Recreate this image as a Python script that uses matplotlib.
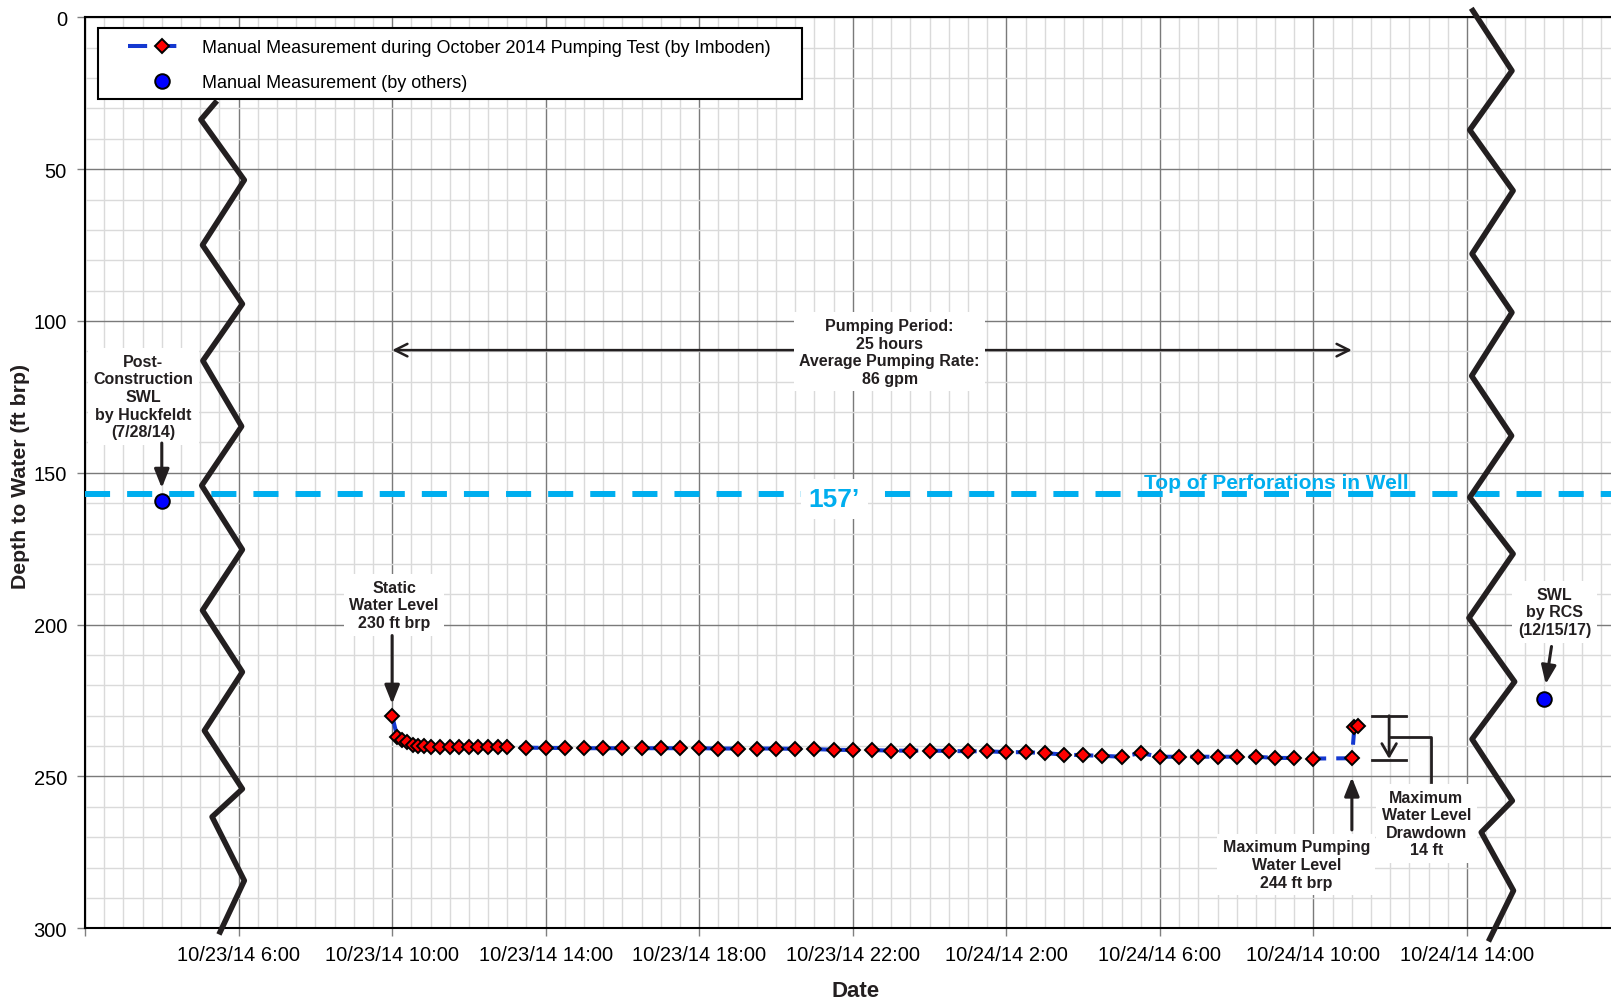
import datetime as dt
import matplotlib
matplotlib.use("Agg")
import matplotlib.pyplot as plt
import matplotlib.dates as mdates
from matplotlib.ticker import MultipleLocator, FuncFormatter
from matplotlib.patches import Rectangle
from matplotlib.legend_handler import HandlerLine2D
from matplotlib import font_manager

# October 2014 pumping test (Imboden): minutes after pump start, depth to water (ft brp)
pump_start = dt.datetime(2014, 10, 23, 10, 0)
test_minutes = [0, 8, 16, 24, 32, 40, 50, 60, 75, 90, 105, 120, 135, 150, 165,
                180, 210, 240, 270, 300, 330, 360, 390, 420, 450, 480, 510, 540,
                570, 600, 630, 660, 690, 720, 750, 780, 810, 840, 870, 900, 930,
                960, 990, 1020, 1050, 1080, 1110, 1140, 1170, 1200, 1230, 1260,
                1290, 1320, 1350, 1380, 1410, 1440, 1500, 1504, 1510]
test_depth = [230.0, 236.9, 238.0, 238.7, 239.5, 239.9, 240.1, 240.2, 240.2, 240.2,
              240.2, 240.2, 240.2, 240.2, 240.2,
              240.3, 240.5, 240.6, 240.6, 240.7, 240.7, 240.7, 240.7, 240.7, 240.7,
              240.7, 240.8, 240.8, 240.8, 240.8, 240.9, 241.0, 241.2, 241.3, 241.3,
              241.5, 241.5, 241.5, 241.6, 241.7, 241.7, 242.0, 242.0, 242.3, 242.8,
              243.0, 243.2, 243.5, 242.3, 243.5, 243.5, 243.5, 243.5, 243.5, 243.5,
              243.9, 243.9, 244.1, 244.0, 233.8, 233.4]

# measurements by others (placed on the broken axis)
other_times = [dt.datetime(2014, 10, 23, 4, 0), dt.datetime(2014, 10, 24, 16, 0)]
other_depth = [159.2, 224.5]

top_perf = 157

# axis break symbols: hours after 10/23 2:00, depth
t0 = dt.datetime(2014, 10, 23, 2, 0)
t1 = dt.datetime(2014, 10, 24, 18, 0)
left_break_h = [3.39, 3.02, 4.15, 3.06, 4.10, 3.07, 4.08, 3.04, 4.10, 3.06, 4.10,
                3.11, 4.10, 3.31, 4.15, 3.52]
left_break_d = [28.2, 33.7, 53.6, 75.0, 94.4, 113.1, 134.7, 154.2, 175.3, 195.3,
                215.6, 234.9, 254.1, 263.3, 284.3, 301.2]
right_break_h = [36.15, 37.17, 36.07, 37.20, 36.13, 37.17, 36.12, 37.16, 36.07,
                 37.20, 36.05, 37.24, 36.13, 37.18, 36.37, 37.21, 36.59]
right_break_d = [-2.2, 17.6, 37.1, 57.1, 77.9, 97.2, 118.1, 137.8, 158.1, 176.7,
                 197.8, 218.8, 237.7, 258.0, 268.4, 287.6, 303.5]


def at(h):
    return t0 + dt.timedelta(hours=h)


class OffsetMarker(HandlerLine2D):
    # legend marker sits a bit right of the handle centre, like the original
    def create_artists(self, legend, orig_handle, xdescent, ydescent, width,
                       height, fontsize, trans):
        arts = super().create_artists(legend, orig_handle, xdescent, ydescent,
                                      width, height, fontsize, trans)
        for a in arts:
            x = list(a.get_xdata())
            if len(x) == 3:
                a.set_xdata([x[0], x[0] + 0.63 * (x[2] - x[0]), x[2]])
        return arts


names = {f.name for f in font_manager.fontManager.ttflist}
narrow = "Liberation Sans Narrow" if "Liberation Sans Narrow" in names else "Liberation Sans"
plt.rcParams["font.family"] = ["Liberation Sans", "DejaVu Sans"]

ink = "#231f20"
blue = "#1438d0"
cyan = "#00aeef"

W, H = 1611, 1003
fig = plt.figure(figsize=(W / 100, H / 100), dpi=100)
ax = fig.add_axes([85 / W, 1 - 929.3 / H, (1620.6 - 85) / W, 911 / H])

test_times = [pump_start + dt.timedelta(minutes=m) for m in test_minutes]
ax.plot(test_times, test_depth, color=blue, lw=2.9, linestyle=(0, (4.75, 2.5)),
        marker="D", ms=7.6, mfc="red", mec="black", mew=1.4, zorder=5,
        label="Manual Measurement during October 2014 Pumping Test (by Imboden)")
ax.plot(other_times, other_depth, linestyle="none", marker="o", ms=10.5,
        mfc="#0000ff", mec="black", mew=1.4, zorder=5,
        label="Manual Measurement (by others)")

# top of perforations
ax.axhline(top_perf, color=cyan, lw=4.3, linestyle=(0, (4.2, 2.85)), zorder=3)
ax.text(at(19.52), 158.6, "157\u2019", color=cyan, fontsize=19, fontweight="bold",
        family=narrow, ha="center", va="center", zorder=4,
        bbox=dict(boxstyle="square,pad=0.3", fc="white", ec="none"))
ax.text(at(31.02), 153.1, "Top of Perforations in Well", color=cyan, fontsize=15,
        fontweight="bold", ha="center", va="center", zorder=4)

# axis break symbols
ax.plot([at(h) for h in left_break_h], left_break_d, color=ink, lw=4,
        clip_on=False, zorder=4)
ax.plot([at(h) for h in right_break_h], right_break_d, color=ink, lw=4,
        clip_on=False, zorder=4)

box = dict(boxstyle="square,pad=0.35", fc="white", ec="none")
txt = dict(fontsize=11.5, fontweight="bold", color=ink, ha="center", va="center",
           linespacing=1.22, zorder=6, bbox=box)
head = dict(arrowstyle="-|>,head_length=0.75,head_width=0.3", mutation_scale=15,
            lw=2.2, color=ink, shrinkA=0, shrinkB=0)

ax.text(at(1.52), 124.9, "Post-\nConstruction\nSWL\nby Huckfeldt\n(7/28/14)", **txt)
ax.annotate("", xy=(at(2.0), 155), xytext=(at(2.0), 140.2), arrowprops=head, zorder=6)

ax.text(at(8.05), 193.5, "Static\nWater Level\n230 ft brp", **txt)
ax.annotate("", xy=(at(8.0), 226.1), xytext=(at(8.0), 203.6), arrowprops=head, zorder=6)

ax.annotate("", xy=(at(8.0), 109.6), xytext=(at(33.0), 109.6), zorder=5,
            arrowprops=dict(arrowstyle="<->,head_length=0.6,head_width=0.3",
                            mutation_scale=15, lw=1.8, color=ink,
                            shrinkA=0, shrinkB=0))
ax.text(at(20.96), 110.2, "Pumping Period:\n25 hours\nAverage Pumping Rate:\n86 gpm",
        **txt)

ax.text(at(31.55), 279.0, "Maximum Pumping\nWater Level\n244 ft brp", **txt)
ax.annotate("", xy=(at(33.0), 250.3), xytext=(at(33.0), 267.6), arrowprops=head, zorder=6)

# drawdown bracket
ax.plot([at(33.53), at(34.42)], [230, 230], color=ink, lw=2, zorder=5)
ax.plot([at(33.53), at(34.42)], [244.5, 244.5], color=ink, lw=2, zorder=5)
ax.annotate("", xy=(at(33.97), 244.2), xytext=(at(33.97), 230), zorder=5,
            arrowprops=dict(arrowstyle="->,head_length=0.6,head_width=0.35",
                            mutation_scale=15, lw=2, color=ink,
                            shrinkA=0, shrinkB=0))
ax.plot([at(33.97), at(35.05), at(35.05)], [237.1, 237.1, 251.9], color=ink,
        lw=2, zorder=5)
ax.text(at(34.94), 265.5, "Maximum\nWater Level\nDrawdown\n14 ft", **txt)

ax.text(at(38.28), 195.8, "SWL\nby RCS\n(12/15/17)", **txt)
ax.annotate("", xy=(at(38.05), 219.6), xytext=(at(38.2), 207.2), arrowprops=head, zorder=6)

# axes, ticks, grid
ax.set_xlim(t0, t1)
ax.set_ylim(300, 0)
ax.xaxis.set_major_locator(mdates.HourLocator(byhour=[2, 6, 10, 14, 18, 22]))
ax.xaxis.set_minor_locator(mdates.MinuteLocator(byminute=[0, 30]))


def fmt_date(x, pos):
    d = mdates.num2date(x).replace(tzinfo=None)
    if d <= t0 or d >= t1:
        return ""
    return f"{d.month}/{d.day}/{d:%y} {d.hour}:{d:%M}"


ax.xaxis.set_major_formatter(FuncFormatter(fmt_date))
ax.yaxis.set_major_locator(MultipleLocator(50))
ax.yaxis.set_minor_locator(MultipleLocator(10))
ax.tick_params(which="major", length=6, width=1, color="#808080", labelsize=14.5)
ax.tick_params(axis="x", which="major", pad=6)
ax.tick_params(axis="y", which="major", pad=7)
ax.tick_params(which="minor", length=0)
ax.grid(which="major", color="#7a7a7a", lw=1.0)
ax.grid(which="minor", color="#dadada", lw=1.0)
ax.set_axisbelow(True)
for side in ["left", "bottom", "top"]:
    ax.spines[side].set_linewidth(1.5)
    ax.spines[side].set_color("black")
ax.spines["right"].set_visible(False)

ax.set_xlabel("Date", fontsize=16, fontweight="bold", color=ink, va="center")
ax.xaxis.set_label_coords(0.502, -0.0683)
ax.set_ylabel("Depth to Water (ft brp)", fontsize=15.3, fontweight="bold", color=ink,
              va="center")
ax.yaxis.set_label_coords(-0.042, 0.497)

# legend with a hand-drawn frame
frame = Rectangle((97.7 / W, 1 - 100 / H), (802.4 - 97.7) / W, 70.7 / H,
                  transform=fig.transFigure, fc="white", ec="black", lw=1.5,
                  zorder=7, clip_on=False)
ax.add_patch(frame)
leg = ax.legend(loc="upper left", bbox_to_anchor=(118.7 / W, 1 - 31 / H),
                bbox_transform=fig.transFigure, frameon=False, fontsize=13,
                borderpad=0, handlelength=3.05, handletextpad=1.05,
                labelspacing=1.0, numpoints=1,
                handler_map={plt.Line2D: OffsetMarker()})
leg.set_zorder(8)

fig.savefig("out.png", dpi=100)
